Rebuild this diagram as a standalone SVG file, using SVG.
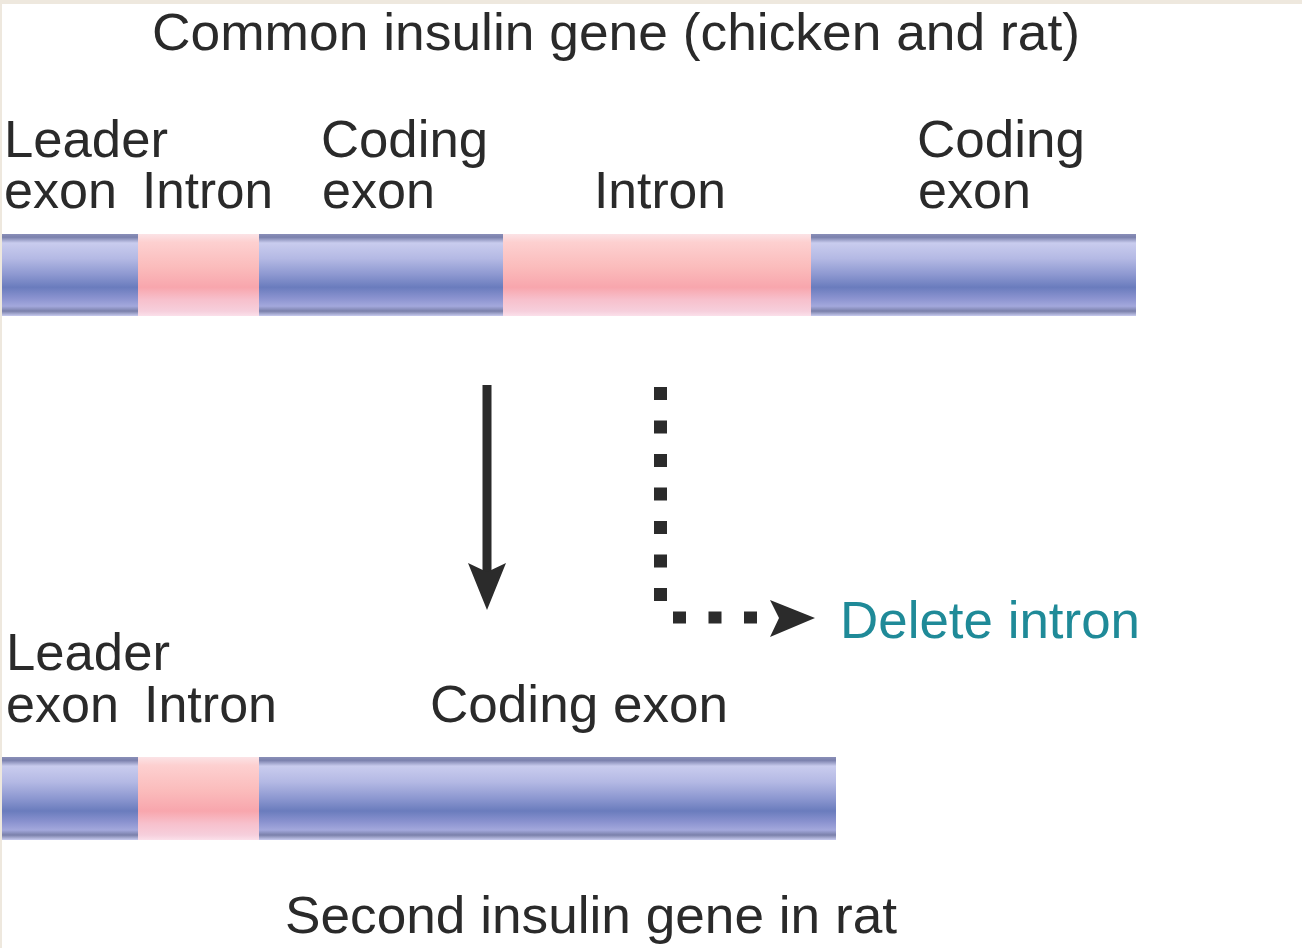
<svg xmlns="http://www.w3.org/2000/svg" width="1302" height="948" viewBox="0 0 1302 948">
<defs>
<linearGradient id="gBlue" x1="0" y1="0" x2="0" y2="1">
<stop offset="0" stop-color="#8a8fb8"/>
<stop offset="0.04" stop-color="#7b81ad"/>
<stop offset="0.11" stop-color="#c9ccee"/>
<stop offset="0.3" stop-color="#b4b9e4"/>
<stop offset="0.5" stop-color="#8c97d0"/>
<stop offset="0.65" stop-color="#6a7cbd"/>
<stop offset="0.78" stop-color="#8a92cf"/>
<stop offset="0.88" stop-color="#a3a8dc"/>
<stop offset="0.94" stop-color="#7a80aa"/>
<stop offset="1" stop-color="#c8cbef"/>
</linearGradient>
<linearGradient id="gPink" x1="0" y1="0" x2="0" y2="1">
<stop offset="0" stop-color="#fbe3e6"/>
<stop offset="0.1" stop-color="#fdd0d0"/>
<stop offset="0.4" stop-color="#fbbcbc"/>
<stop offset="0.65" stop-color="#f8a6ad"/>
<stop offset="0.8" stop-color="#f7c0cc"/>
<stop offset="0.94" stop-color="#f6cfdc"/>
<stop offset="1" stop-color="#fbe0ea"/>
</linearGradient>
</defs>
<style>
.t{font-family:"Liberation Sans",Arial,sans-serif;font-size:52px;fill:#2a2a2a}
.teal{fill:#1f8a98}
.exon{fill:url(#gBlue)}
.intron{fill:url(#gPink)}
.arrow{fill:#2b2b2b}
</style>
<rect width="1302" height="948" fill="#ffffff"/>
<rect width="1302" height="4" fill="#eee8de"/>
<rect width="2" height="948" fill="#eee8de"/>

<g id="title"><text class="t" x="152" y="50" font-size="54" textLength="928" lengthAdjust="spacingAndGlyphs">Common insulin gene (chicken and rat)</text></g>

<g id="gene-common">
<rect class="exon" x="2" y="234" width="136" height="82"/>
<rect class="intron" x="138" y="234" width="121" height="82"/>
<rect class="exon" x="259" y="234" width="244" height="82"/>
<rect class="intron" x="503" y="234" width="308" height="82"/>
<rect class="exon" x="811" y="234" width="325" height="82"/>
</g>
<g id="labels-common">
<text class="t" x="4" y="157" textLength="164" lengthAdjust="spacingAndGlyphs">Leader</text>
<text class="t" x="4" y="208" textLength="113" lengthAdjust="spacingAndGlyphs">exon</text>
<text class="t" x="142" y="208" textLength="131" lengthAdjust="spacingAndGlyphs">Intron</text>
<text class="t" x="321" y="157" textLength="167" lengthAdjust="spacingAndGlyphs">Coding</text>
<text class="t" x="322" y="208" textLength="113" lengthAdjust="spacingAndGlyphs">exon</text>
<text class="t" x="594" y="208" textLength="132" lengthAdjust="spacingAndGlyphs">Intron</text>
<text class="t" x="917" y="157" textLength="168" lengthAdjust="spacingAndGlyphs">Coding</text>
<text class="t" x="918" y="208" textLength="113" lengthAdjust="spacingAndGlyphs">exon</text>
</g>

<g id="gene-rat">
<rect class="exon" x="2" y="757" width="136" height="83"/>
<rect class="intron" x="138" y="757" width="121" height="83"/>
<rect class="exon" x="259" y="757" width="577" height="83"/>
</g>
<g id="labels-rat">
<text class="t" x="6" y="670" textLength="164" lengthAdjust="spacingAndGlyphs">Leader</text>
<text class="t" x="6" y="722" textLength="113" lengthAdjust="spacingAndGlyphs">exon</text>
<text class="t" x="144" y="722" textLength="133" lengthAdjust="spacingAndGlyphs">Intron</text>
<text class="t" x="430" y="722" textLength="298" lengthAdjust="spacingAndGlyphs">Coding exon</text>
</g>
<g id="caption"><text class="t" x="285" y="933" textLength="612" lengthAdjust="spacingAndGlyphs">Second insulin gene in rat</text></g>
<g id="delete-label"><text class="t teal" x="840" y="638" textLength="300" lengthAdjust="spacingAndGlyphs">Delete intron</text></g>

<g id="connectors">
<line x1="487" y1="385" x2="487" y2="575" stroke="#2b2b2b" stroke-width="9"/>
<polygon class="arrow" points="468,563 487,572 506,563 487,610"/>
<line x1="660.5" y1="387" x2="660.5" y2="601" stroke="#2b2b2b" stroke-width="13" stroke-dasharray="13 20.5"/>
<line x1="673" y1="617.5" x2="760" y2="617.5" stroke="#2b2b2b" stroke-width="12" stroke-dasharray="13 22.5"/>
<polygon class="arrow" points="770,600 815,618 770,637 779,618"/>
</g>
</svg>
